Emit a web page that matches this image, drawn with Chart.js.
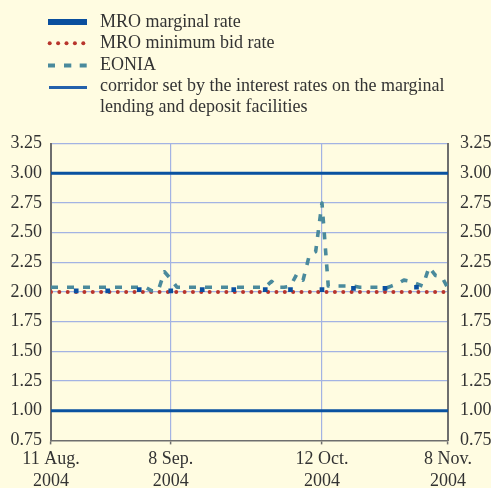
<!DOCTYPE html>
<html>
<head>
<meta charset="utf-8">
<script src="https://cdn.jsdelivr.net/npm/chart.js@4.4.1/dist/chart.umd.min.js"></script>
<style>
  html, body { margin: 0; padding: 0; background: #fffce1; }
  #wrap { position: relative; width: 491px; height: 488px; overflow: hidden; background: #fffce1; }
  #c { position: absolute; left: 0; top: 0; }
  #legendSw { position: absolute; left: 0; top: 0; }
  #legendTxt { position: absolute; left: 100px; top: 11px; font: 18px "Liberation Serif", "Times New Roman", serif;
               line-height: 21.25px; color: #333; white-space: nowrap; }
</style>
</head>
<body>
<div id="wrap">
  <canvas id="c" width="491" height="488"></canvas>
  <svg id="legendSw" width="100" height="120" xmlns="http://www.w3.org/2000/svg">
    <rect x="48" y="19" width="39" height="6" fill="#0a4f9e"/>
    <g fill="#b8352c">
      <circle cx="49.7" cy="43.3" r="2"/><circle cx="58.1" cy="43.3" r="2"/><circle cx="66.5" cy="43.3" r="2"/>
      <circle cx="74.9" cy="43.3" r="2"/><circle cx="83.3" cy="43.3" r="2"/>
    </g>
    <g fill="#4a8a9c">
      <rect x="48" y="63.5" width="7" height="4"/><rect x="64" y="63.5" width="7.3" height="4"/><rect x="79.7" y="63.5" width="7" height="4"/>
    </g>
    <rect x="49" y="86" width="38" height="3" fill="#2461ab"/>
  </svg>
  <div id="legendTxt">MRO marginal rate<br>MRO minimum bid rate<br>EONIA<br>corridor set by the interest rates on the marginal<br>lending and deposit facilities</div>
</div>
<script>
// ---- data (x = business-day index, 12 Aug 2004 = 1 ... 9 Nov 2004 = 64) ----
const eonia = [
  2.04, 2.04, 2.04, 2.04, 2.04, 2.04, 2.04, 2.04, 2.04, 2.04,   // 1-10
  2.04, 2.04, 2.04, 2.04, 2.04, 2.04, 2.01, 2.01, 2.17, 2.11,   // 11-20
  2.04, 2.04, 2.04, 2.04, 2.04, 2.04, 2.04, 2.04, 2.04, 2.04,   // 21-30
  2.04, 2.04, 2.04, 2.04, 2.04, 2.09, 2.04, 2.04, 2.05, 2.15,   // 31-40
  2.10, 2.31, 2.34, 2.75, 2.05, 2.05, 2.05, 2.05, 2.05, 2.04,   // 41-50
  2.04, 2.04, 2.04, 2.03, 2.05, 2.07, 2.10, 2.09, 2.07, 2.05,   // 51-60
  2.21, 2.14, 2.13, 2.03                                        // 61-64
];
const mroDays = [5, 10, 15, 20, 25, 30, 35, 39, 44, 49, 54, 59];
const mroMarginalRate = [2.01, 2.01, 2.02, 2.01, 2.02, 2.02, 2.02, 2.02, 2.02, 2.03, 2.03, 2.04];
const rateSpan = [1, 64];
const minimumBidRate = [2.00, 2.00];
const marginalLendingRate = [3.00, 3.00];
const depositRate = [1.00, 1.00];
const tickPositions = [1, 20, 44, 64];
const tickLabels = [["11 Aug.", "2004"], ["8 Sep.", "2004"], ["12 Oct.", "2004"], ["8 Nov.", "2004"]];
const yMin = 0.75, yMax = 3.25, yStep = 0.25;

const FONT = { family: '"Liberation Serif", "Times New Roman", serif', size: 18 };
const TXT = '#333333';
const GRID = '#a3b3e3';
const AXIS = '#6e6e6e';

const pairs = (xs, ys) => xs.map((x, k) => ({ x: x, y: ys[k] }));

new Chart(document.getElementById('c'), {
  type: 'line',
  data: {
    datasets: [
      { label: 'MRO marginal rate', data: pairs(mroDays, mroMarginalRate), showLine: false,
        pointStyle: 'rect', pointRadius: 3.3, pointBackgroundColor: '#0a50a0', pointBorderWidth: 0, order: 0 },
      { label: 'EONIA', data: eonia.map((v, k) => ({ x: k + 1, y: v })), borderColor: '#4a8a9c', borderWidth: 3.6,
        borderDash: [7, 9], borderJoinStyle: 'round', pointRadius: 0, tension: 0, order: 1 },
      { label: 'MRO minimum bid rate', data: pairs(rateSpan, minimumBidRate), borderColor: '#b8352c', borderWidth: 4,
        borderDash: [0, 8.35], borderCapStyle: 'round', pointRadius: 0, order: 2 },
      { label: 'marginal lending facility', data: pairs(rateSpan, marginalLendingRate), borderColor: '#0a52a0',
        borderWidth: 3, pointRadius: 0, order: 3 },
      { label: 'deposit facility', data: pairs(rateSpan, depositRate), borderColor: '#0a52a0',
        borderWidth: 3, pointRadius: 0, order: 4 }
    ]
  },
  options: {
    responsive: false,
    animation: false,
    events: [],
    layout: { padding: { top: 143.6, left: 0, right: 0, bottom: 0 } },
    plugins: { legend: { display: false }, tooltip: { enabled: false } },
    scales: {
      x: {
        type: 'linear', min: rateSpan[0], max: rateSpan[1],
        afterBuildTicks: (s) => { s.ticks = tickPositions.map(v => ({ value: v })); },
        afterFit: (s) => { s.height = 47.6; },
        ticks: { font: FONT, color: TXT, padding: 4, maxRotation: 0, autoSkip: false,
                 callback: (v, i) => tickLabels[i] },
        grid: {
          drawTicks: true, tickLength: 4, lineWidth: 1.2,
          color: (ctx) => (ctx.tick && (ctx.tick.value === 20 || ctx.tick.value === 44)) ? GRID : 'rgba(0,0,0,0)',
          tickColor: AXIS, tickWidth: 1.5
        },
        border: { display: true, color: AXIS, width: 1.5 }
      },
      y: {
        position: 'left', min: yMin, max: yMax,
        afterFit: (s) => { s.width = 51; },
        ticks: { stepSize: yStep, font: FONT, color: TXT, padding: 9, callback: (v) => v.toFixed(2) },
        grid: { drawTicks: false, lineWidth: 1.3,
                color: (ctx) => (ctx.tick && Math.abs(ctx.tick.value - yMin) < 1e-6) ? 'rgba(0,0,0,0)' : GRID },
        border: { display: true, color: AXIS, width: 2 }
      },
      y2: {
        position: 'right', min: yMin, max: yMax,
        afterFit: (s) => { s.width = 43; },
        ticks: { stepSize: yStep, font: FONT, color: TXT, padding: 12, callback: (v) => v.toFixed(2) },
        grid: { display: false, drawTicks: false },
        border: { display: true, color: AXIS, width: 2 }
      }
    }
  }
});
</script>
</body>
</html>
